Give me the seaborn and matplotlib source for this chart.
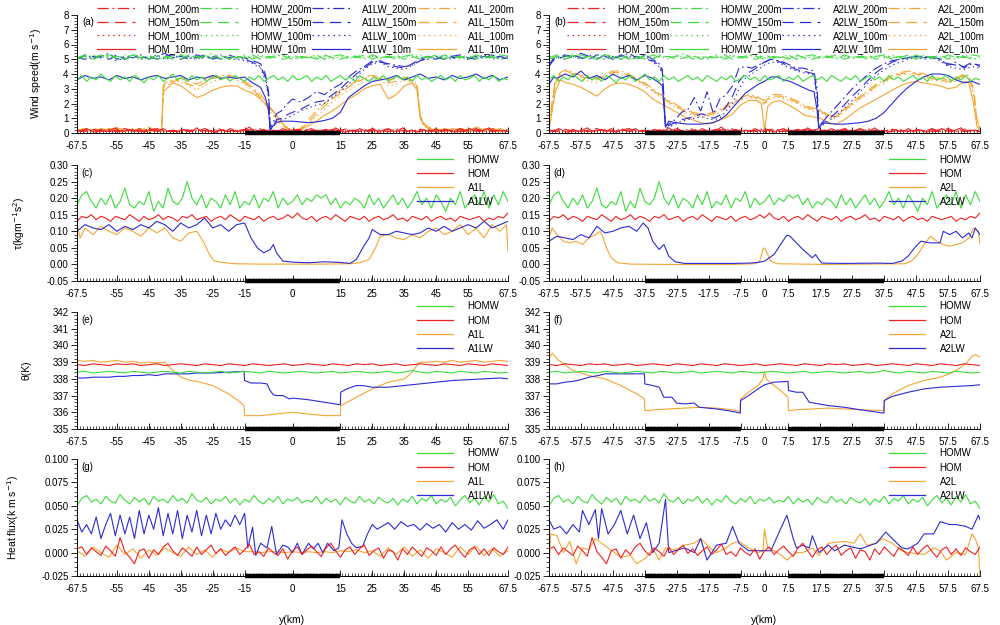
import numpy as np
import matplotlib
matplotlib.use("Agg")
import matplotlib.pyplot as plt
from matplotlib.lines import Line2D
import seaborn as sns
from matplotlib.ticker import FixedLocator, MultipleLocator, FormatStrFormatter

plt.rcParams['font.family'] = ['Liberation Sans', 'DejaVu Sans']

RED, GREEN, BLUE, ORANGE = '#f22020', '#3cdc3c', '#2b2bd6', '#f5a532'
LEVELS = ['200m', '150m', '100m', '10m']
LSTYLE = {'200m': (0, (9, 3, 1.5, 3)), '150m': (0, (9, 5)), '100m': (0, (1.2, 3)), '10m': '-'}

# grids for the homogeneous runs (2.5 km and 1.5 km spacing)
X = np.arange(-67.5, 67.6, 2.5)
X15 = np.arange(-67.5, 67.6, 1.5)

# ---------------- wind speed (a, b) ----------------
HOM_WS = {
    '200m': [0.1, 0.2, 0.15, 0.1, 0.25, 0.1, 0.2, 0.15, 0.1, 0.2, 0.3,
             0.1, 0.15, 0.2, 0.1, 0.25, 0.15, 0.1, 0.2, 0.1, 0.15, 0.25,
             0.1, 0.2, 0.15, 0.1, 0.2, 0.3, 0.1, 0.15, 0.2, 0.1, 0.25,
             0.15, 0.1, 0.2, 0.1, 0.3, 0.15, 0.1, 0.2, 0.15, 0.1, 0.25,
             0.1, 0.2, 0.15, 0.1, 0.3, 0.1, 0.2, 0.15, 0.1, 0.2, 0.15],
    '150m': [0.2, 0.1, 0.25, 0.15, 0.1, 0.2, 0.3, 0.1, 0.15, 0.1, 0.2,
             0.25, 0.1, 0.15, 0.2, 0.1, 0.3, 0.1, 0.15, 0.2, 0.1, 0.15,
             0.25, 0.1, 0.2, 0.15, 0.1, 0.2, 0.25, 0.1, 0.15, 0.2, 0.1,
             0.2, 0.3, 0.1, 0.15, 0.2, 0.1, 0.25, 0.1, 0.2, 0.15, 0.1,
             0.2, 0.1, 0.25, 0.15, 0.1, 0.2, 0.3, 0.1, 0.2, 0.15, 0.1],
    '100m': [0.15, 0.25, 0.1, 0.2, 0.15, 0.1, 0.2, 0.25, 0.1, 0.3, 0.15,
             0.1, 0.2, 0.1, 0.25, 0.15, 0.1, 0.2, 0.3, 0.1, 0.2, 0.1,
             0.15, 0.3, 0.1, 0.2, 0.15, 0.1, 0.2, 0.25, 0.1, 0.15, 0.2,
             0.1, 0.2, 0.15, 0.25, 0.1, 0.2, 0.1, 0.3, 0.1, 0.2, 0.15,
             0.25, 0.1, 0.2, 0.15, 0.1, 0.25, 0.15, 0.1, 0.3, 0.1, 0.2],
    '10m': [0.2, 0.1, 0.3, 0.15, 0.05, 0.25, 0.1, 0.2, 0.35, 0.1,
            0.15, 0.25, 0.1, 0.3, 0.05, 0.2, 0.15, 0.1, 0.3, 0.1,
            0.2, 0.05, 0.25, 0.15, 0.1, 0.35, 0.1, 0.2, 0.15, 0.05,
            0.25, 0.1, 0.3, 0.15, 0.1, 0.2, 0.4, 0.1, 0.15, 0.25,
            0.05, 0.2, 0.1, 0.3, 0.15, 0.1, 0.25, 0.05, 0.2, 0.3,
            0.1, 0.15, 0.25, 0.1, 0.35, 0.15, 0.05, 0.2, 0.1, 0.3,
            0.15, 0.1, 0.25, 0.05, 0.2, 0.3, 0.1, 0.15, 0.35, 0.1,
            0.2, 0.05, 0.25, 0.15, 0.1, 0.3, 0.1, 0.2, 0.15, 0.05,
            0.25, 0.1, 0.3, 0.15, 0.1, 0.2, 0.35, 0.1, 0.15, 0.2,
            0.1],
}
HOMW_WS = {
    '200m': [5.0, 5.2, 5.1, 5.3, 5.0, 5.2, 5.1, 5.3, 5.2, 5.0, 5.3,
             5.1, 5.2, 5.0, 5.3, 5.1, 5.2, 5.4, 5.0, 5.2, 5.1, 5.3,
             5.0, 5.2, 5.1, 5.3, 5.2, 5.0, 5.2, 5.1, 5.3, 5.0, 5.2,
             5.3, 5.1, 5.2, 5.0, 5.3, 5.1, 5.2, 5.0, 5.2, 5.3, 5.1,
             5.2, 5.0, 5.3, 5.1, 5.2, 5.0, 5.3, 5.1, 5.2, 5.0, 5.1],
    '150m': [5.1, 5.3, 5.0, 5.2, 5.3, 5.1, 5.0, 5.2, 5.1, 5.3, 5.0,
             5.2, 5.0, 5.3, 5.1, 5.2, 5.0, 5.1, 5.3, 5.0, 5.2, 5.1,
             5.3, 5.0, 5.2, 5.1, 5.0, 5.3, 5.1, 5.2, 5.0, 5.3, 5.1,
             5.0, 5.2, 5.1, 5.3, 5.0, 5.2, 5.1, 5.3, 5.0, 5.2, 5.0,
             5.1, 5.3, 5.0, 5.2, 5.1, 5.3, 5.0, 5.2, 5.1, 5.3, 5.2],
    '100m': [5.2, 5.0, 5.3, 5.1, 5.2, 5.0, 5.3, 5.1, 5.0, 5.2, 5.1,
             5.0, 5.3, 5.1, 5.2, 5.0, 5.3, 5.1, 5.2, 5.1, 5.0, 5.2,
             5.1, 5.3, 5.0, 5.2, 5.3, 5.1, 5.0, 5.2, 5.1, 5.2, 5.0,
             5.2, 5.0, 5.3, 5.1, 5.2, 5.0, 5.3, 5.1, 5.2, 5.1, 5.3,
             5.0, 5.2, 5.1, 5.3, 5.0, 5.1, 5.2, 5.0, 5.3, 5.1, 5.0],
    '10m': [3.6, 3.9, 3.5, 3.8, 3.6, 4.0, 3.7, 3.5, 3.9, 3.6,
            3.8, 3.5, 3.9, 3.7, 3.4, 3.8, 3.6, 3.9, 3.5, 3.7,
            4.0, 3.6, 3.8, 3.5, 3.9, 3.6, 3.8, 3.5, 3.7, 3.9,
            3.6, 3.8, 3.5, 3.9, 3.7, 3.5, 3.8, 3.6, 3.9, 3.5,
            3.7, 3.9, 3.6, 3.8, 3.5, 3.9, 3.6, 3.7, 3.9, 3.5,
            3.8, 3.6, 3.9, 3.5, 3.7, 3.9, 3.6, 3.8, 3.5, 3.9,
            3.7, 3.5, 3.8, 3.6, 3.9, 3.5, 3.7, 3.9, 3.6, 3.8,
            3.5, 3.9, 3.6, 3.8, 3.5, 3.7, 3.9, 3.6, 3.8, 3.5,
            3.9, 3.6, 3.7, 3.9, 3.5, 3.8, 3.6, 3.9, 3.5, 3.7,
            3.6],
}

X_A1LW = [-67.5, -65, -62.5, -60, -57.5, -55, -52.5, -50, -47.5, -45,
          -42.5, -40, -37.5, -35, -32.5, -30, -27.5, -25, -22.5, -20,
          -17.5, -15, -12.5, -10, -8.5, -7.5, -7, -6, -5, -3.5,
          -2, 0, 2.5, 5, 7.5, 10, 12.5, 15, 17.5, 20,
          22.5, 25, 27.5, 30, 32.5, 35, 37.5, 40, 42.5, 45,
          47.5, 50, 52.5, 55, 57.5, 60, 62.5, 65, 67.5]
A1LW_WS = {
    '200m': [5.0, 5.3, 5.1, 5.2, 5.4, 5.0, 5.2, 5.1, 5.3, 5.0,
             5.2, 5.4, 5.1, 5.2, 5.0, 5.3, 5.1, 5.2, 5.0, 5.3,
             5.1, 5.0, 4.8, 4.5, 3.8, 2.6, 0.3, 0.7, 1.3, 1.5,
             1.9, 2.3, 2.1, 2.4, 2.8, 2.6, 3.0, 3.3, 3.8, 4.2,
             4.5, 4.9, 4.8, 4.7, 4.6, 4.5, 4.6, 4.9, 5.1, 5.0,
             5.3, 5.1, 5.2, 5.0, 5.2, 5.1, 5.3, 5.0, 5.1],
    '150m': [5.1, 5.0, 5.2, 5.1, 5.0, 5.3, 5.0, 5.2, 5.1, 5.2,
             5.0, 5.2, 5.3, 5.0, 5.2, 5.1, 5.3, 5.0, 5.2, 5.1,
             5.2, 5.1, 4.9, 4.7, 4.0, 2.8, 0.4, 0.5, 0.9, 1.0,
             1.2, 1.4, 1.6, 1.9, 2.1, 2.2, 2.6, 3.0, 3.5, 4.0,
             4.4, 4.8, 4.9, 4.6, 4.5, 4.4, 4.7, 5.0, 5.2, 5.1,
             5.0, 5.2, 5.3, 5.1, 5.0, 5.2, 5.1, 5.2, 5.0],
    '100m': [4.9, 5.2, 5.0, 5.3, 5.1, 4.9, 5.1, 5.3, 5.0, 5.1,
             5.3, 5.0, 5.1, 5.3, 5.1, 5.0, 5.2, 5.1, 5.3, 5.0,
             5.0, 4.9, 4.7, 4.4, 3.6, 2.4, 0.2, 0.4, 0.8, 0.9,
             1.0, 1.2, 1.5, 1.7, 1.9, 2.0, 2.4, 2.8, 3.3, 3.8,
             4.3, 4.7, 4.8, 4.5, 4.4, 4.3, 4.6, 4.9, 5.0, 5.2,
             5.1, 5.0, 5.2, 5.0, 5.1, 5.3, 5.0, 5.1, 5.2],
    '10m': [3.6, 3.9, 3.7, 3.8, 3.6, 3.9, 3.7, 3.8, 3.6, 3.8,
            3.9, 3.7, 3.8, 3.9, 3.6, 3.8, 3.7, 3.9, 3.7, 3.8,
            3.7, 3.8, 3.4, 3.1, 2.4, 1.5, 0.2, 0.5, 0.7, 0.8,
            0.8, 0.8, 0.75, 0.7, 0.75, 0.85, 1.0, 1.4, 2.4, 2.8,
            3.2, 3.5, 3.6, 3.7, 3.9, 3.6, 3.8, 4.0, 3.7, 3.8,
            3.6, 3.9, 3.7, 3.8, 4.0, 3.7, 3.9, 3.6, 3.8],
}

X_A1L = [-67.5, -65, -62.5, -60, -57.5, -55, -52.5, -50, -47.5, -45,
         -42.5, -41, -40.5, -40, -37.5, -35, -32.5, -30, -27.5, -25,
         -22.5, -20, -17.5, -15, -12.5, -10, -7.5, -5, -2.5, 0,
         2.5, 5, 7.5, 10, 12.5, 15, 17.5, 20, 22.5, 25,
         27.5, 30, 32.5, 35, 37.5, 39, 40, 41, 42.5, 45,
         47.5, 50, 52.5, 55, 57.5, 60, 62.5, 65, 67.5]
A1L_WS = {
    '200m': [0.2, 0.1, 0.3, 0.2, 0.1, 0.25, 0.3, 0.1, 0.2, 0.4,
             0.15, 0.2, 3.2, 3.4, 3.6, 3.7, 3.5, 3.3, 3.6, 3.8,
             3.9, 3.9, 3.8, 3.5, 3.1, 2.6, 1.9, 1.2, 0.5, 0.05,
             0.3, 0.9, 1.5, 2.0, 2.5, 2.9, 3.2, 3.5, 3.8, 3.9,
             3.8, 3.6, 3.7, 3.8, 3.6, 3.3, 1.3, 0.7, 0.4, 0.3,
             0.2, 0.1, 0.3, 0.2, 0.1, 0.25, 0.15, 0.3, 0.2],
    '150m': [0.1, 0.3, 0.2, 0.1, 0.3, 0.2, 0.1, 0.25, 0.15, 0.3,
             0.2, 0.1, 3.0, 3.3, 3.5, 3.6, 3.3, 3.1, 3.4, 3.7,
             3.8, 3.8, 3.7, 3.4, 3.0, 2.4, 1.7, 1.0, 0.4, 0.05,
             0.25, 0.7, 1.3, 1.8, 2.3, 2.7, 3.1, 3.4, 3.7, 3.8,
             3.7, 3.4, 3.5, 3.7, 3.5, 3.2, 1.2, 0.6, 0.3, 0.2,
             0.3, 0.2, 0.1, 0.3, 0.2, 0.1, 0.3, 0.2, 0.1],
    '100m': [0.3, 0.2, 0.1, 0.2, 0.3, 0.1, 0.2, 0.3, 0.1, 0.2,
             0.3, 0.2, 2.9, 3.2, 3.4, 3.5, 3.2, 2.9, 3.2, 3.5,
             3.7, 3.7, 3.6, 3.3, 2.9, 2.3, 1.6, 0.9, 0.3, 0.05,
             0.2, 0.6, 1.1, 1.6, 2.1, 2.5, 2.9, 3.2, 3.5, 3.7,
             3.6, 3.2, 3.3, 3.6, 3.4, 3.1, 1.1, 0.5, 0.3, 0.2,
             0.1, 0.2, 0.3, 0.2, 0.1, 0.3, 0.2, 0.1, 0.2],
    '10m': [0.2, 0.3, 0.1, 0.3, 0.2, 0.35, 0.15, 0.2, 0.3, 0.1,
            0.2, 0.2, 2.7, 2.9, 3.4, 3.2, 2.8, 2.4, 2.6, 2.9,
            3.1, 3.2, 3.2, 2.9, 2.7, 2.3, 1.8, 1.2, 0.5, 0.1,
            0.2, 0.5, 0.8, 1.2, 1.5, 1.9, 2.3, 2.6, 3.0, 3.2,
            3.3, 2.3, 2.6, 3.2, 3.4, 2.9, 1.0, 0.6, 0.3, 0.2,
            0.1, 0.3, 0.2, 0.1, 0.4, 0.2, 0.3, 0.1, 0.2],
}

X_A2LW = [-67.5, -66, -65, -62.5, -60, -57.5, -55, -52.5, -50, -47.5,
          -45, -42.5, -40, -37.5, -35, -33, -32, -31, -30, -28,
          -26, -24, -22, -20, -18, -16, -14, -12, -10, -8,
          -6, -4, -2, 0, 2, 4, 6, 8, 10, 12,
          14, 15.5, 16.5, 17, 18, 20, 22.5, 25, 27.5, 30,
          32.5, 35, 37.5, 40, 42.5, 45, 47.5, 50, 52.5, 55,
          57.5, 60, 62.5, 65, 67.5]
A2LW_WS = {
    '200m': [4.5, 5.0, 5.1, 5.3, 5.1, 5.4, 5.2, 5.0, 5.3, 5.1,
             5.2, 5.4, 5.1, 5.3, 5.0, 4.7, 4.3, 0.5, 0.6, 0.9,
             1.4, 1.6, 2.4, 1.5, 2.8, 1.3, 2.3, 2.6, 3.2, 4.4,
             4.5, 4.4, 4.6, 4.8, 5.0, 4.9, 4.8, 4.6, 4.4, 4.4,
             4.3, 4.2, 3.0, 0.6, 0.7, 1.2, 1.8, 2.4, 3.0, 3.5,
             4.0, 4.4, 4.7, 4.9, 5.0, 5.1, 5.2, 5.2, 5.1, 5.0,
             4.6, 4.8, 4.4, 4.7, 4.6],
    '150m': [4.6, 5.1, 5.0, 5.2, 5.3, 5.1, 5.0, 5.3, 5.2, 5.0,
             5.3, 5.1, 5.2, 5.0, 4.9, 4.6, 4.2, 0.4, 0.5, 0.7,
             0.9, 1.0, 1.1, 1.3, 1.2, 1.0, 1.2, 1.8, 2.5, 3.5,
             4.0, 4.2, 4.5, 4.8, 5.0, 4.9, 4.7, 4.5, 4.3, 4.2,
             4.1, 4.0, 2.5, 0.4, 0.6, 0.9, 1.4, 1.9, 2.5, 3.0,
             3.6, 4.1, 4.5, 4.8, 5.0, 5.1, 5.2, 5.1, 5.2, 5.0,
             4.7, 4.6, 4.5, 4.8, 4.5],
    '100m': [4.7, 4.9, 5.2, 5.0, 5.2, 5.0, 5.3, 5.1, 5.0, 5.2,
             5.0, 5.2, 5.0, 5.2, 4.8, 4.5, 4.0, 0.3, 0.4, 0.6,
             0.8, 0.9, 1.0, 1.1, 1.0, 0.9, 1.0, 1.5, 2.0, 3.0,
             3.7, 4.0, 4.3, 4.6, 4.8, 4.8, 4.6, 4.4, 4.2, 4.1,
             4.0, 3.9, 2.2, 0.3, 0.5, 0.8, 1.2, 1.7, 2.2, 2.8,
             3.4, 3.9, 4.3, 4.6, 4.8, 5.0, 5.1, 5.0, 5.1, 4.9,
             4.5, 4.4, 4.3, 4.5, 4.4],
    '10m': [3.3, 3.8, 3.7, 4.0, 3.8, 4.2, 3.7, 3.9, 3.6, 4.0,
            3.7, 3.9, 3.6, 3.9, 3.7, 3.4, 3.2, 0.4, 0.8, 0.7,
            0.65, 0.6, 0.6, 0.6, 0.65, 0.7, 0.9, 1.2, 1.7, 2.2,
            2.7, 3.0, 3.3, 3.5, 3.8, 3.8, 3.6, 3.5, 3.3, 3.1,
            2.9, 2.8, 1.5, 0.3, 0.7, 0.65, 0.6, 0.6, 0.65, 0.7,
            0.8, 1.0, 1.4, 2.0, 2.6, 3.1, 3.5, 3.8, 4.0, 4.0,
            3.9, 3.6, 3.4, 3.5, 3.3],
}

X_A2L = [-67.5, -66.5, -65.5, -64, -62, -60, -57.5, -55, -52.5, -50,
         -47.5, -45, -42.5, -40, -37.5, -35, -32.5, -30, -27.5, -25,
         -22.5, -20, -17.5, -15, -12.5, -10, -7.5, -5, -2.5, -1,
         0, 1, 2.5, 5, 7.5, 10, 12.5, 15, 17.5, 20,
         22.5, 25, 27.5, 30, 32.5, 35, 37.5, 40, 42.5, 45,
         47.5, 50, 52.5, 55, 57.5, 60, 62.5, 64, 65.5, 66.5,
         67.5]
A2L_WS = {
    '200m': [0.3, 2.2, 3.6, 4.1, 4.3, 4.1, 3.9, 3.8, 3.7, 4.0,
             4.2, 4.2, 4.0, 3.7, 3.4, 3.0, 2.6, 2.2, 1.9, 1.6,
             1.4, 1.3, 1.3, 1.5, 1.8, 2.1, 2.4, 2.6, 2.5, 2.3,
             2.2, 2.4, 2.6, 2.6, 2.4, 2.2, 1.9, 1.7, 1.6, 1.2,
             1.2, 1.6, 2.1, 2.5, 2.9, 3.3, 3.6, 3.9, 4.1, 4.2,
             4.1, 4.0, 3.8, 3.7, 3.6, 3.7, 4.0, 3.9, 3.0, 1.0,
             0.3],
    '150m': [0.3, 2.0, 3.4, 4.0, 4.2, 4.0, 3.8, 3.7, 3.6, 3.9,
             4.1, 4.1, 3.9, 3.6, 3.3, 2.9, 2.5, 2.1, 1.8, 1.5,
             1.3, 1.2, 1.2, 1.4, 1.7, 2.0, 2.3, 2.5, 2.4, 2.2,
             2.0, 2.3, 2.5, 2.5, 2.3, 2.1, 1.8, 1.6, 1.5, 1.1,
             1.1, 1.5, 2.0, 2.4, 2.8, 3.2, 3.5, 3.8, 4.0, 4.1,
             4.0, 3.9, 3.7, 3.6, 3.5, 3.6, 3.9, 3.8, 2.8, 0.9,
             0.3],
    '100m': [0.2, 1.8, 3.2, 3.9, 4.0, 3.8, 3.7, 3.5, 3.4, 3.7,
             3.9, 4.0, 3.8, 3.5, 3.2, 2.8, 2.4, 2.0, 1.7, 1.4,
             1.2, 1.1, 1.1, 1.3, 1.6, 1.9, 2.2, 2.4, 2.3, 2.1,
             1.9, 2.2, 2.4, 2.4, 2.2, 2.0, 1.7, 1.5, 1.4, 1.0,
             1.0, 1.4, 1.9, 2.3, 2.7, 3.1, 3.4, 3.7, 3.9, 4.0,
             3.9, 3.8, 3.6, 3.5, 3.4, 3.5, 3.8, 3.7, 2.6, 0.8,
             0.2],
    '10m': [0.2, 1.5, 2.8, 3.6, 3.4, 3.3, 3.1, 2.8, 2.5, 3.0,
            3.3, 3.4, 3.3, 3.1, 2.8, 2.3, 2.0, 1.7, 1.4, 1.1,
            0.9, 0.7, 0.6, 0.8, 1.0, 1.3, 1.9, 2.2, 2.2, 2.0,
            0.2, 1.8, 2.1, 2.2, 1.9, 1.6, 1.2, 1.1, 1.0, 0.7,
            0.6, 0.9, 1.3, 1.7, 2.0, 2.3, 2.6, 2.9, 3.2, 3.4,
            3.5, 3.4, 3.3, 3.2, 3.0, 3.1, 3.5, 3.4, 2.0, 0.5,
            0.2],
}

# ---------------- surface stress (c, d) ----------------
HOMW_TAU = [0.18, 0.21, 0.22, 0.19, 0.17, 0.20, 0.18, 0.21, 0.17, 0.19,
            0.23, 0.18, 0.17, 0.19, 0.18, 0.22, 0.16, 0.19, 0.17, 0.23,
            0.19, 0.18, 0.20, 0.25, 0.20, 0.18, 0.21, 0.17, 0.20, 0.19,
            0.17, 0.21, 0.18, 0.22, 0.17, 0.19, 0.18, 0.21, 0.17, 0.20,
            0.19, 0.22, 0.17, 0.20, 0.18, 0.19, 0.21, 0.18, 0.20, 0.19,
            0.21, 0.20, 0.21, 0.18, 0.20, 0.17, 0.19, 0.18, 0.20, 0.19,
            0.17, 0.21, 0.18, 0.20, 0.17, 0.19, 0.21, 0.18, 0.20, 0.17,
            0.19, 0.22, 0.18, 0.20, 0.17, 0.21, 0.19, 0.16, 0.20, 0.18,
            0.22, 0.17, 0.19, 0.21, 0.18, 0.22, 0.17, 0.21, 0.18, 0.22,
            0.19]
HOM_TAU = [0.13, 0.145, 0.14, 0.15, 0.135, 0.145, 0.14, 0.13, 0.145, 0.14,
           0.135, 0.15, 0.14, 0.13, 0.145, 0.135, 0.14, 0.15, 0.135, 0.145,
           0.14, 0.13, 0.145, 0.14, 0.15, 0.135, 0.14, 0.145, 0.13, 0.14,
           0.145, 0.135, 0.15, 0.14, 0.13, 0.145, 0.14, 0.135, 0.145, 0.13,
           0.14, 0.145, 0.135, 0.14, 0.15, 0.14, 0.155, 0.14, 0.135, 0.145,
           0.13, 0.14, 0.145, 0.135, 0.15, 0.14, 0.13, 0.145, 0.14, 0.135,
           0.145, 0.13, 0.14, 0.145, 0.135, 0.14, 0.15, 0.135, 0.14, 0.13,
           0.145, 0.14, 0.135, 0.145, 0.13, 0.14, 0.145, 0.135, 0.14, 0.13,
           0.145, 0.14, 0.135, 0.14, 0.145, 0.13, 0.14, 0.135, 0.145, 0.14,
           0.155]
X_C_A1LW = [-67.5, -65, -62.5, -60, -57.5, -55, -52.5, -50, -47.5, -45,
            -42.5, -40, -37.5, -35, -32.5, -30, -27.5, -25, -22.5, -20,
            -17.5, -15, -13, -11, -9, -7, -6, -5, -3, 0,
            5, 10, 15, 18, 20, 22, 24, 25, 27.5, 30,
            32.5, 35, 37.5, 40, 42.5, 45, 47.5, 50, 52.5, 55,
            57.5, 60, 62.5, 65, 67.5]
TAU_A1LW = [0.10, 0.12, 0.11, 0.105, 0.12, 0.10, 0.115, 0.105, 0.12, 0.11,
            0.13, 0.12, 0.10, 0.125, 0.11, 0.12, 0.14, 0.11, 0.12, 0.10,
            0.12, 0.125, 0.08, 0.05, 0.035, 0.045, 0.06, 0.035, 0.01, 0.007,
            0.005, 0.008, 0.006, 0.003, 0.015, 0.05, 0.08, 0.105, 0.09, 0.09,
            0.10, 0.095, 0.09, 0.095, 0.11, 0.10, 0.115, 0.10, 0.11, 0.12,
            0.11, 0.13, 0.11, 0.12, 0.13]
X_C_A1L = [-67.5, -66.5, -65, -62.5, -60, -57.5, -55, -52.5, -50, -47.5,
           -45, -42.5, -40, -37.5, -35, -32.5, -30, -28, -26, -24.5,
           -22, -18, -10, 0, 10, 18, 21, 24, 26, 27.5,
           30, 32.5, 35, 37.5, 40, 42.5, 45, 47.5, 50, 52.5,
           55, 57.5, 60, 62.5, 65, 67, 67.5]
TAU_A1L = [0.12, 0.08, 0.11, 0.09, 0.115, 0.10, 0.09, 0.11, 0.10, 0.085,
           0.11, 0.095, 0.11, 0.08, 0.07, 0.095, 0.10, 0.07, 0.03, 0.01,
           0.006, 0.002, 0.001, 0.001, 0.001, 0.002, 0.005, 0.015, 0.05, 0.085,
           0.09, 0.08, 0.075, 0.09, 0.08, 0.10, 0.11, 0.09, 0.10, 0.12,
           0.09, 0.11, 0.08, 0.12, 0.10, 0.12, 0.04]
X_D_A2LW = [-67.5, -65, -62.5, -60, -57.5, -55, -52.5, -50, -47.5, -45,
            -42.5, -40, -38, -36.5, -35, -33, -31.5, -30, -28, -25,
            -20, -10, -5, -2, 0, 3, 5, 7, 8, 10,
            12, 15, 16, 17, 18, 25, 35, 40, 43, 45,
            47, 49, 52, 55, 56, 58, 60, 62, 64, 65,
            66, 67.5]
TAU_A2LW = [0.07, 0.085, 0.08, 0.075, 0.09, 0.08, 0.115, 0.095, 0.10, 0.11,
            0.115, 0.10, 0.125, 0.11, 0.07, 0.045, 0.06, 0.025, 0.008, 0.003,
            0.003, 0.003, 0.004, 0.006, 0.01, 0.03, 0.06, 0.088, 0.085, 0.065,
            0.045, 0.02, 0.03, 0.015, 0.004, 0.003, 0.004, 0.003, 0.01, 0.025,
            0.05, 0.07, 0.065, 0.065, 0.10, 0.09, 0.10, 0.08, 0.095, 0.08,
            0.11, 0.09]
X_D_A2L = [-67.5, -66.5, -65, -63, -61, -59, -57, -55, -53, -51.5,
           -50.5, -49.5, -48, -46, -42, -30, -10, -3, -1.5, -0.5,
           0, 1, 2, 4, 20, 44, 46, 48, 50, 52,
           54, 56, 58, 60, 62, 64, 65.5, 67, 67.5]
TAU_A2L = [0.08, 0.11, 0.09, 0.07, 0.065, 0.07, 0.06, 0.08, 0.09, 0.10,
           0.08, 0.05, 0.02, 0.005, 0.001, 0.0, 0.0, 0.002, 0.01, 0.045,
           0.05, 0.03, 0.01, 0.002, 0.0, 0.002, 0.01, 0.03, 0.06, 0.085,
           0.07, 0.06, 0.055, 0.06, 0.065, 0.08, 0.11, 0.10, 0.06]

# ---------------- potential temperature (e, f) ----------------
HOMW_TH = [338.4, 338.45, 338.35, 338.4, 338.45, 338.4, 338.35, 338.45, 338.4, 338.35, 338.4,
           338.45, 338.4, 338.35, 338.45, 338.4, 338.35, 338.4, 338.45, 338.35, 338.4, 338.45,
           338.4, 338.35, 338.45, 338.4, 338.35, 338.4, 338.45, 338.4, 338.35, 338.4, 338.45,
           338.35, 338.4, 338.45, 338.4, 338.35, 338.4, 338.45, 338.35, 338.4, 338.5, 338.4,
           338.35, 338.45, 338.4, 338.35, 338.45, 338.4, 338.35, 338.45, 338.4, 338.35, 338.4]
HOM_TH = [338.85, 338.8, 338.9, 338.85, 338.8, 338.9, 338.85, 338.9, 338.8, 338.85, 338.9,
          338.8, 338.85, 338.9, 338.85, 338.8, 338.9, 338.85, 338.8, 338.9, 338.85, 338.8,
          338.9, 338.85, 338.8, 338.85, 338.9, 338.8, 338.85, 338.9, 338.85, 338.8, 338.9,
          338.85, 338.8, 338.9, 338.85, 338.9, 338.8, 338.85, 338.9, 338.8, 338.85, 338.9,
          338.85, 338.8, 338.9, 338.85, 338.8, 338.9, 338.85, 338.8, 338.9, 338.85, 338.8]
X_E_A1L = [-67.5, -65, -62.5, -60, -57.5, -55, -52.5, -50, -47.5, -45,
           -42.5, -40, -38, -35, -32, -30, -25, -20, -17, -15.2,
           -15, -10, -5, 0, 5, 10, 15, 15.1, 20, 25,
           30, 35, 37, 39, 40, 42.5, 45, 47.5, 50, 52.5,
           55, 57.5, 60, 62.5, 65, 67.5]
TH_A1L = [339.1, 339.05, 339.1, 339.0, 339.05, 339.1, 339.0, 339.05, 338.95, 339.0,
          338.95, 339.0, 338.6, 338.1, 337.9, 337.85, 337.6, 337.1, 336.7, 336.4,
          335.8, 335.8, 335.9, 336.0, 335.9, 335.8, 335.8, 336.4, 336.9, 337.4,
          337.8, 338.0, 338.3, 338.8, 339.0, 339.0, 339.05, 339.0, 339.1, 339.0,
          339.05, 339.1, 339.0, 339.05, 339.1, 339.05]
X_E_A1LW = [-67.5, -65, -62.5, -60, -57.5, -55, -52.5, -50, -47.5, -45,
            -42.5, -40, -37.5, -35, -32.5, -30, -25, -20, -15.2, -15,
            -13, -10, -8, -7, -6, -5, -3, -1, 0, 5,
            10, 15, 15.1, 17, 20, 22, 25, 30, 35, 40,
            45, 50, 55, 60, 65, 67.5]
TH_A1LW = [338.05, 338.05, 338.1, 338.1, 338.1, 338.15, 338.15, 338.2, 338.2, 338.25,
           338.2, 338.3, 338.3, 338.3, 338.3, 338.35, 338.35, 338.4, 338.45, 337.9,
           337.75, 337.75, 337.7, 337.3, 337.05, 337.0, 337.0, 336.8, 336.85, 336.75,
           336.6, 336.45, 337.2, 337.4, 337.6, 337.6, 337.5, 337.5, 337.6, 337.7,
           337.8, 337.9, 337.95, 338.0, 338.05, 338.0]
X_F_A2L = [-67.5, -66.5, -65, -63, -60, -55, -50, -45, -40, -37.6,
           -37.5, -30, -25, -20, -15, -10, -7.6, -7.5, -5, -2,
           -0.5, 0, 0.5, 3, 5, 7.4, 7.5, 10, 15, 20,
           25, 30, 37.4, 37.5, 40, 45, 50, 55, 58, 60,
           63, 65, 66, 67.5]
TH_A2L = [339.2, 339.55, 339.2, 338.9, 338.5, 338.2, 338.0, 337.6, 337.1, 336.8,
          336.1, 336.2, 336.25, 336.3, 336.25, 336.15, 336.05, 336.8, 337.2, 337.6,
          338.0, 338.45, 338.0, 337.6, 337.3, 336.9, 336.1, 336.15, 336.2, 336.25,
          336.2, 336.15, 336.1, 336.7, 337.1, 337.6, 337.9, 338.1, 338.3, 338.5,
          338.9, 339.35, 339.45, 339.3]
X_F_A2LW = [-67.5, -65, -62.5, -60, -57.5, -55, -52, -50, -45, -40,
            -37.6, -37.5, -35, -33, -31.5, -29, -27.5, -25, -22, -20.5,
            -15, -10, -7.6, -7.5, -5, -2, 0, 3, 7.4, 7.5,
            10, 12, 14, 17, 20, 25, 30, 37.4, 37.5, 40,
            45, 50, 55, 60, 65, 67.5]
TH_A2LW = [337.7, 337.7, 337.8, 337.85, 337.95, 338.1, 338.2, 338.3, 338.3, 338.3,
           338.3, 337.7, 337.6, 337.5, 336.9, 336.9, 336.55, 336.5, 336.55, 336.3,
           336.2, 336.05, 335.95, 336.7, 337.0, 337.4, 337.65, 337.8, 337.85, 337.3,
           337.2, 337.2, 336.6, 336.5, 336.4, 336.3, 336.15, 335.95, 336.7, 336.95,
           337.2, 337.4, 337.5, 337.55, 337.6, 337.65]

# ---------------- heat flux (g, h) ----------------
HOMW_FL = [0.050, 0.058, 0.061, 0.054, 0.057, 0.052, 0.060, 0.055, 0.053, 0.062,
           0.056, 0.052, 0.059, 0.054, 0.058, 0.051, 0.060, 0.055, 0.057, 0.053,
           0.061, 0.055, 0.058, 0.053, 0.063, 0.056, 0.054, 0.059, 0.052, 0.057,
           0.055, 0.060, 0.053, 0.058, 0.051, 0.057, 0.054, 0.061, 0.055, 0.052,
           0.058, 0.054, 0.060, 0.052, 0.057, 0.055, 0.059, 0.053, 0.056, 0.054,
           0.060, 0.052, 0.058, 0.054, 0.057, 0.051, 0.059, 0.055, 0.053, 0.060,
           0.054, 0.057, 0.052, 0.059, 0.055, 0.053, 0.058, 0.051, 0.057, 0.054,
           0.060, 0.052, 0.058, 0.055, 0.061, 0.052, 0.057, 0.054, 0.059, 0.050,
           0.056, 0.061, 0.053, 0.058, 0.051, 0.060, 0.054, 0.062, 0.052, 0.055,
           0.047]
HOM_FL = [0.004, 0.006, -0.002, 0.005, 0.001, -0.003, 0.007, 0.002, -0.004, 0.016,
          0.001, -0.005, -0.012, 0.002, 0.004, -0.006, 0.003, -0.002, 0.006, 0.010,
          0.002, -0.003, 0.005, 0.001, -0.004, 0.006, -0.002, 0.003, 0.008, -0.001,
          0.004, -0.003, 0.002, 0.006, -0.002, 0.003, 0.009, -0.002, 0.001, -0.004,
          0.005, 0.0, -0.003, 0.004, -0.007, 0.002, 0.006, -0.002, 0.003, 0.007,
          0.001, -0.004, 0.005, 0.010, 0.002, -0.005, 0.003, 0.006, -0.002, 0.004,
          0.008, -0.003, 0.002, 0.005, -0.006, 0.003, 0.001, -0.008, 0.004, -0.002,
          0.006, 0.001, -0.004, 0.005, 0.002, -0.003, 0.006, -0.002, 0.004, 0.008,
          0.001, -0.005, 0.003, 0.006, -0.002, 0.004, -0.003, 0.005, 0.001, -0.002,
          0.006]
X_G_A1LW = list(np.arange(-67.5, -14.9, 1.5)) + [
    -14, -12.5, -11.5, -10, -8, -6.5, -5, -3, -1.5, 0,
    1.5, 3, 5, 6.5, 8, 9.5, 11, 13, 14.5, 15.5,
    17, 18.5, 20, 22, 23.5, 25, 26.5, 28, 30, 32,
    34, 36, 38, 40, 42, 44, 46, 48, 50, 52,
    54, 56, 58, 60, 62, 64, 66, 67.5]
FL_A1LW = [0.035, 0.022, 0.030, 0.020, 0.038, 0.015, 0.030, 0.042, 0.018, 0.040,
           0.020, 0.038, 0.015, 0.045, 0.020, 0.040, 0.025, 0.048, 0.018, 0.042,
           0.020, 0.045, 0.015, 0.040, 0.022, 0.045, 0.018, 0.040, 0.020, 0.042,
           0.025, 0.035, 0.028, 0.040, 0.030, 0.042,
           0.005, 0.027, -0.003, 0.010, 0.005, 0.028, -0.002, 0.008, 0.006, 0.0,
           0.010, -0.002, 0.010, 0.004, 0.010, 0.0, 0.010, 0.002, 0.005, 0.035,
           0.020, 0.010, 0.005, 0.007, 0.020, 0.030, 0.025, 0.028, 0.032, 0.025,
           0.033, 0.028, 0.030, 0.024, 0.031, 0.026, 0.030, 0.022, 0.032, 0.025,
           0.030, 0.024, 0.034, 0.026, 0.030, 0.035, 0.025, 0.035]
FL_A1L = [0.002, -0.004, 0.006, 0.0, -0.005, 0.008, -0.002, 0.004, -0.006, 0.003,
          -0.003, 0.005, 0.0, -0.004, 0.006, -0.002, 0.003, -0.005, 0.004, 0.0,
          0.005, 0.001, 0.001, 0.0, 0.001, 0.001, 0.0, 0.001, 0.0, 0.001,
          0.0, 0.001, 0.0, 0.002, 0.001, 0.003, 0.0, 0.002, -0.004, 0.005,
          -0.002, 0.006, -0.004, 0.003, -0.006, 0.004, 0.0, -0.005, 0.006, -0.002,
          0.007, -0.003, 0.004, -0.004, 0.002]
X_H_A2LW = [-67.5, -66, -64, -62, -60, -58, -57, -55, -53, -52,
            -51, -49, -47, -45, -43, -41, -39, -37, -35, -33,
            -31, -30, -28, -25, -22, -20, -18, -15, -12, -10,
            -8, -5, 0, 2, 5, 7, 9, 10, 12, 14,
            15, 17, 20, 22, 25, 30, 35, 38, 40, 43,
            45, 48, 50, 53, 55, 58, 60, 63, 65, 67, 67.5]
FL_A2LW = [0.035, 0.025, 0.028, 0.020, 0.030, 0.022, 0.045, 0.030, 0.046, 0.015,
           0.047, 0.020, 0.030, 0.045, 0.020, 0.040, 0.015, 0.032, 0.0, 0.010,
           0.057, 0.0, 0.002, 0.005, 0.0, 0.015, -0.008, 0.008, 0.010, 0.028,
           0.010, 0.002, 0.002, 0.002, 0.025, 0.040, 0.015, 0.005, 0.008, 0.005,
           0.018, 0.0, 0.008, 0.002, 0.008, 0.004, 0.010, 0.022, 0.015, 0.005,
           0.004, 0.010, 0.020, 0.020, 0.033, 0.030, 0.030, 0.028, 0.025, 0.040, 0.035]
X_H_A2L = [-67.5, -67, -65, -63, -61, -59, -57, -55, -53, -51,
           -49, -47, -45, -42, -40, -37, -35, -33, -31, -28,
           -25, -22, -20, -17, -15, -12, -10, -8, -5, -2,
           -0.5, 0, 1, 3, 5, 7, 10, 12, 15, 17,
           20, 25, 28, 30, 32, 35, 37, 40, 43, 45,
           50, 53, 55, 57, 60, 63, 65, 66, 67, 67.5]
FL_A2L = [-0.025, 0.020, 0.018, 0.0, 0.012, -0.012, 0.005, 0.003, 0.015, 0.010,
          0.005, 0.0, -0.005, -0.003, -0.012, -0.005, 0.005, -0.008, 0.005, 0.003,
          0.008, 0.010, 0.015, 0.005, 0.0, 0.005, 0.010, 0.012, 0.005, 0.0,
          0.002, 0.025, 0.005, 0.002, -0.002, -0.008, 0.0, 0.0, 0.005, -0.003,
          0.010, 0.012, 0.010, 0.020, 0.008, 0.010, 0.015, 0.010, 0.002, 0.0,
          -0.002, 0.005, 0.002, -0.008, 0.0, -0.002, 0.020, 0.015, 0.005, -0.025]

# land strips along the x axis
LAND_1 = [(-15, 15)]
LAND_2 = [(-37.5, -7.5), (7.5, 37.5)]

XT_LEFT = [-67.5, -55, -45, -35, -25, -15, 0, 15, 25, 35, 45, 55, 67.5]
XT_RIGHT = [-67.5, -57.5, -47.5, -37.5, -27.5, -17.5, -7.5, 0, 7.5, 17.5, 27.5, 37.5, 47.5, 57.5, 67.5]


def grid(y):
    return X15 if len(y) == len(X15) else X


def line(ax, x, y, color, ls='-', label=None):
    sns.lineplot(x=list(x), y=list(y), ax=ax, color=color, linestyle=ls, linewidth=0.8,
                 estimator=None, sort=False, legend=False)
    # proxy handle for the legend
    return Line2D([], [], color=color, linestyle=ls, linewidth=0.9, label=label)


def style(ax, ylim, ystep, yminor, yfmt, xticks, land):
    ax.set_xlim(-67.5, 67.5)
    ax.set_xticks(xticks)
    ax.set_xticklabels(['%g' % v for v in xticks])
    ax.xaxis.set_minor_locator(FixedLocator(np.arange(-67.5, 67.6, 1.0)))
    ax.yaxis.set_major_locator(MultipleLocator(ystep))
    ax.yaxis.set_minor_locator(MultipleLocator(yminor))
    ax.yaxis.set_major_formatter(FormatStrFormatter(yfmt))
    ax.set_ylim(*ylim)
    ax.tick_params(axis='x', which='major', direction='in', length=4, width=0.6, pad=6, labelsize=7)
    ax.tick_params(axis='x', which='minor', direction='in', length=2.3, width=0.5)
    ax.tick_params(axis='y', which='major', direction='out', length=4, width=0.6, pad=2, labelsize=7)
    ax.tick_params(axis='y', which='minor', direction='out', length=2.3, width=0.5)
    for s in ['top', 'right']:
        ax.spines[s].set_visible(False)
    for s in ['left', 'bottom']:
        ax.spines[s].set_linewidth(0.7)
    ax.set_xlabel('')
    ax.set_ylabel('')
    for a, b in land:
        ax.plot([a, b], [ylim[0], ylim[0]], color='black', lw=3.2, solid_capstyle='butt',
                clip_on=False, zorder=6)


fig = plt.figure(figsize=(10, 6.25), dpi=100)
W, H = 1000.0, 625.0
rows_px = [(15, 133), (165, 281), (312, 429), (459, 576)]
cols_px = [(77, 508), (549, 980)]
axes = {}
for r, (top, bot) in enumerate(rows_px):
    for c, (lft, rgt) in enumerate(cols_px):
        axes[(r, c)] = fig.add_axes([lft / W, 1 - bot / H, (rgt - lft) / W, (bot - top) / H])

# ---- (a) and (b): wind speed at four heights
for c, (exp, xl, ws_l, xw, ws_w) in enumerate([
        ('1', X_A1L, A1L_WS, X_A1LW, A1LW_WS),
        ('2', X_A2L, A2L_WS, X_A2LW, A2LW_WS)]):
    ax = axes[(0, c)]
    hd = {}
    for lv in LEVELS:
        hd[('L', lv)] = line(ax, xl, ws_l[lv], ORANGE, LSTYLE[lv], 'A%sL_%s' % (exp, lv))
    for lv in LEVELS:
        hd[('LW', lv)] = line(ax, xw, ws_w[lv], BLUE, LSTYLE[lv], 'A%sLW_%s' % (exp, lv))
    for lv in LEVELS:
        hd[('HOMW', lv)] = line(ax, grid(HOMW_WS[lv]), HOMW_WS[lv], GREEN, LSTYLE[lv], 'HOMW_%s' % lv)
    for lv in LEVELS:
        hd[('HOM', lv)] = line(ax, grid(HOM_WS[lv]), HOM_WS[lv], RED, LSTYLE[lv], 'HOM_%s' % lv)
    handles = [hd[(k, lv)] for k in ['HOM', 'HOMW', 'LW', 'L'] for lv in LEVELS]
    x0 = 0.046 if c == 0 else 0.042
    ax.legend(handles=handles, ncol=4, frameon=False,
              loc='upper left', bbox_to_anchor=(x0, 1.095), borderpad=0, borderaxespad=0,
              fontsize=7, handlelength=3.9, handletextpad=1.3, labelspacing=0.36,
              columnspacing=0.0)
    style(ax, (0, 8), 1, 0.2, '%d', XT_LEFT if c == 0 else XT_RIGHT, LAND_1 if c == 0 else LAND_2)
    ax.text(0.012, 0.985, '(a)' if c == 0 else '(b)', transform=ax.transAxes, fontsize=7, va='top')


def four(ax, homw, hom, xl, yl, xw, yw, exp):
    h3 = line(ax, xl, yl, ORANGE, '-', 'A%sL' % exp)
    h4 = line(ax, xw, yw, BLUE, '-', 'A%sLW' % exp)
    h1 = line(ax, grid(homw), homw, GREEN, '-', 'HOMW')
    h2 = line(ax, grid(hom), hom, RED, '-', 'HOM')
    ax.legend(handles=[h1, h2, h3, h4], frameon=False,
              loc='upper left', bbox_to_anchor=(0.789, 1.09), borderpad=0, borderaxespad=0,
              fontsize=7, handlelength=3.7, handletextpad=1.5, labelspacing=0.42)


# row, y label, label x (axes fraction), limits, major step, minor step, format, data
panels = [
    (1, 'τ(kgm$^{-1}$s$^{2}$)', -0.116, (-0.05, 0.30), 0.05, 0.01, '%.2f',
     [(HOMW_TAU, HOM_TAU, X_C_A1L, TAU_A1L, X_C_A1LW, TAU_A1LW),
      (HOMW_TAU, HOM_TAU, X_D_A2L, TAU_A2L, X_D_A2LW, TAU_A2LW)]),
    (2, 'θ(K)', -0.105, (335, 342), 1, 0.2, '%d',
     [(HOMW_TH, HOM_TH, X_E_A1L, TH_A1L, X_E_A1LW, TH_A1LW),
      (HOMW_TH, HOM_TH, X_F_A2L, TH_A2L, X_F_A2LW, TH_A2LW)]),
    (3, 'Heat flux(k m s$^{-1}$)', -0.130, (-0.025, 0.100), 0.025, 0.005, '%.3f',
     [(HOMW_FL, HOM_FL, X, FL_A1L, X_G_A1LW, FL_A1LW),
      (HOMW_FL, HOM_FL, X_H_A2L, FL_A2L, X_H_A2LW, FL_A2LW)]),
]
letters = 'abcdefgh'
for r, ylab, lx, ylim, ystep, yminor, yfmt, data in panels:
    for c in range(2):
        ax = axes[(r, c)]
        homw, hom, xl, yl, xw, yw = data[c]
        four(ax, homw, hom, xl, yl, xw, yw, str(c + 1))
        style(ax, ylim, ystep, yminor, yfmt, XT_LEFT if c == 0 else XT_RIGHT,
              LAND_1 if c == 0 else LAND_2)
        ax.text(0.01, 0.975, '(%s)' % letters[2 * r + c], transform=ax.transAxes, fontsize=7, va='top')
    axes[(r, 0)].set_ylabel(ylab, fontsize=7.5)
    axes[(r, 0)].yaxis.set_label_coords(lx, 0.5)

axes[(0, 0)].set_ylabel('Wind speed(m s$^{-1}$)', fontsize=7.5)
axes[(0, 0)].yaxis.set_label_coords(-0.077, 0.5)
for c in range(2):
    axes[(3, c)].set_xlabel('y(km)', fontsize=7.5)
    axes[(3, c)].xaxis.set_label_coords(0.5, -0.33)

fig.savefig('out.png', dpi=100)
